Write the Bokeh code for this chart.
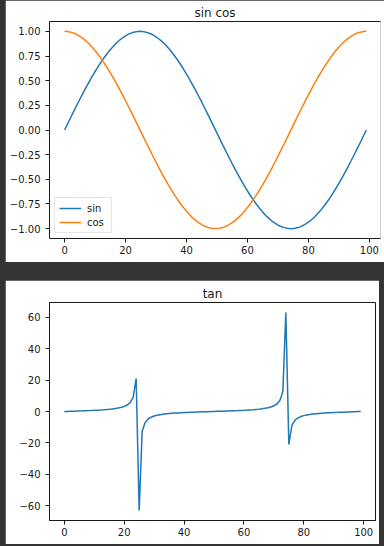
from bokeh.plotting import figure
from bokeh.models import Range1d, FixedTicker, LinearAxis, Legend, LegendItem
from bokeh.layouts import column
from bokeh.embed import file_html
from bokeh.resources import INLINE

# ---- data ----
x_index = [0, 1, 2, 3, 4, 5, 6, 7, 8, 9,
           10, 11, 12, 13, 14, 15, 16, 17, 18, 19,
           20, 21, 22, 23, 24, 25, 26, 27, 28, 29,
           30, 31, 32, 33, 34, 35, 36, 37, 38, 39,
           40, 41, 42, 43, 44, 45, 46, 47, 48, 49,
           50, 51, 52, 53, 54, 55, 56, 57, 58, 59,
           60, 61, 62, 63, 64, 65, 66, 67, 68, 69,
           70, 71, 72, 73, 74, 75, 76, 77, 78, 79,
           80, 81, 82, 83, 84, 85, 86, 87, 88, 89,
           90, 91, 92, 93, 94, 95, 96, 97, 98, 99]

sin_vals = [0.0, 0.0634, 0.1266, 0.1893, 0.2511, 0.3120, 0.3717, 0.4298, 0.4862, 0.5406,
            0.5929, 0.6428, 0.6901, 0.7346, 0.7761, 0.8146, 0.8497, 0.8815, 0.9096, 0.9341,
            0.9549, 0.9718, 0.9848, 0.9938, 0.9989, 0.9999, 0.9969, 0.9898, 0.9788, 0.9639,
            0.9450, 0.9224, 0.8960, 0.8660, 0.8326, 0.7958, 0.7557, 0.7127, 0.6668, 0.6182,
            0.5671, 0.5137, 0.4582, 0.4009, 0.3420, 0.2817, 0.2203, 0.1580, 0.0951, 0.0317,
            -0.0317, -0.0951, -0.1580, -0.2203, -0.2817, -0.3420, -0.4009, -0.4582, -0.5137, -0.5671,
            -0.6182, -0.6668, -0.7127, -0.7557, -0.7958, -0.8326, -0.8660, -0.8960, -0.9224, -0.9450,
            -0.9639, -0.9788, -0.9898, -0.9969, -0.9999, -0.9989, -0.9938, -0.9848, -0.9718, -0.9549,
            -0.9341, -0.9096, -0.8815, -0.8497, -0.8146, -0.7761, -0.7346, -0.6901, -0.6428, -0.5929,
            -0.5406, -0.4862, -0.4298, -0.3717, -0.3120, -0.2511, -0.1893, -0.1266, -0.0634, 0.0]

cos_vals = [1.0, 0.9980, 0.9920, 0.9819, 0.9679, 0.9501, 0.9284, 0.9029, 0.8738, 0.8413,
            0.8053, 0.7660, 0.7237, 0.6785, 0.6306, 0.5801, 0.5272, 0.4723, 0.4154, 0.3569,
            0.2969, 0.2357, 0.1736, 0.1108, 0.0476, -0.0159, -0.0792, -0.1423, -0.2048, -0.2665,
            -0.3271, -0.3863, -0.4441, -0.5, -0.5539, -0.6056, -0.6549, -0.7015, -0.7453, -0.7861,
            -0.8237, -0.8580, -0.8888, -0.9161, -0.9397, -0.9595, -0.9754, -0.9874, -0.9955, -0.9995,
            -0.9995, -0.9955, -0.9874, -0.9754, -0.9595, -0.9397, -0.9161, -0.8888, -0.8580, -0.8237,
            -0.7861, -0.7453, -0.7015, -0.6549, -0.6056, -0.5539, -0.5, -0.4441, -0.3863, -0.3271,
            -0.2665, -0.2048, -0.1423, -0.0792, -0.0159, 0.0476, 0.1108, 0.1736, 0.2357, 0.2969,
            0.3569, 0.4154, 0.4723, 0.5272, 0.5801, 0.6306, 0.6785, 0.7237, 0.7660, 0.8053,
            0.8413, 0.8738, 0.9029, 0.9284, 0.9501, 0.9679, 0.9819, 0.9920, 0.9980, 1.0]

tan_vals = [0.0, 0.0636, 0.1276, 0.1927, 0.2594, 0.3284, 0.4004, 0.4760, 0.5564, 0.6426,
            0.7363, 0.8391, 0.9536, 1.0826, 1.2307, 1.4042, 1.6117, 1.8664, 2.1897, 2.6172,
            3.2163, 4.1231, 5.6713, 8.9726, 20.99, -63.02, -12.58, -6.955, -4.779, -3.617,
            -2.889, -2.387, -2.018, -1.7321, -1.5036, -1.3140, -1.1540, -1.0160, -0.8943, -0.7866,
            -0.6888, -0.5991, -0.5155, -0.4376, -0.3640, -0.2936, -0.2258, -0.1601, -0.0955, -0.0317,
            0.0317, 0.0955, 0.1601, 0.2258, 0.2936, 0.3640, 0.4376, 0.5155, 0.5991, 0.6888,
            0.7866, 0.8943, 1.0160, 1.1540, 1.3140, 1.5036, 1.7321, 2.018, 2.387, 2.889,
            3.617, 4.779, 6.955, 12.58, 63.02, -20.99, -8.9726, -5.6713, -4.1231, -3.2163,
            -2.6172, -2.1897, -1.8664, -1.6117, -1.4042, -1.2307, -1.0826, -0.9536, -0.8391, -0.7363,
            -0.6426, -0.5564, -0.4760, -0.4004, -0.3284, -0.2594, -0.1927, -0.1276, -0.0636, 0.0]

series_names = ["sin", "cos"]
titles = ["sin cos", "tan"]

x_ticks = [0, 20, 40, 60, 80, 100]
x_tick_labels = ["0", "20", "40", "60", "80", "100"]
y_ticks_top = [-1.0, -0.75, -0.5, -0.25, 0.0, 0.25, 0.5, 0.75, 1.0]
y_tick_labels_top = ["\u22121.00", "\u22120.75", "\u22120.50", "\u22120.25", "0.00",
                     "0.25", "0.50", "0.75", "1.00"]
y_ticks_bot = [-60, -40, -20, 0, 20, 40, 60]
y_tick_labels_bot = ["\u221260", "\u221240", "\u221220", "0", "20", "40", "60"]

# ---- styling ----
FONT = "DejaVu Sans"
TICK_SIZE = "10px"
TITLE_SIZE = "12px"
BLUE = "#1f77b4"
ORANGE = "#ff7f0e"
DARK = "#343434"
INK = "#1a1a1a"


def style_axis(ax, ticks, labels, standoff):
    ax.ticker = FixedTicker(ticks=ticks)
    ax.major_label_overrides = dict(zip(ticks, labels))
    ax.major_label_text_font = FONT
    ax.major_label_text_font_size = TICK_SIZE
    ax.major_label_text_color = INK
    ax.major_label_standoff = standoff
    ax.major_tick_out = 4
    ax.major_tick_in = 0
    ax.minor_tick_out = 0
    ax.minor_tick_in = 0
    ax.major_tick_line_color = INK
    ax.axis_line_color = INK
    ax.axis_line_width = 1


def style_title(p, offset):
    p.title.text_font = FONT
    p.title.text_font_size = TITLE_SIZE
    p.title.text_font_style = "normal"
    p.title.text_color = INK
    p.title.align = "center"
    p.title.offset = offset
    p.title.standoff = 3


# ---- top: sin / cos ----
top = figure(width=379, height=262, output_backend="svg", toolbar_location=None,
             x_range=Range1d(-4.95, 103.64), y_range=Range1d(-1.1, 1.1),
             min_border_left=44, min_border_right=0, min_border_top=21,
             min_border_bottom=24, title=titles[0], margin=(0, 0, 0, 5))
top.outline_line_color = None
top.grid.visible = False
style_title(top, 0)
style_axis(top.xaxis[0], x_ticks, x_tick_labels, 3)
style_axis(top.yaxis[0], y_ticks_top, y_tick_labels_top, 5)

r_sin = top.line(x_index, sin_vals, line_color=BLUE, line_width=1.5)
r_cos = top.line(x_index, cos_vals, line_color=ORANGE, line_width=1.5)

legend = Legend(items=[LegendItem(label=series_names[0], renderers=[r_sin]),
                       LegendItem(label=series_names[1], renderers=[r_cos])],
                location="bottom_left")
legend.margin = 5
legend.padding = 4
legend.spacing = 2
legend.glyph_width = 22
legend.glyph_height = 12
legend.label_height = 12
legend.label_standoff = 6
legend.label_text_font = FONT
legend.label_text_font_size = TICK_SIZE
legend.label_text_color = INK
legend.border_line_color = "#cccccc"
legend.border_line_width = 1
legend.background_fill_color = "white"
legend.background_fill_alpha = 0.8
top.add_layout(legend)

top_spine = LinearAxis(ticker=FixedTicker(ticks=[]), major_tick_out=0, major_tick_in=0,
                       minor_tick_out=0, minor_tick_in=0, major_label_standoff=0,
                       major_label_text_font_size="0px", axis_line_color=INK,
                       axis_line_width=1)
top.add_layout(top_spine, "above")

# ---- bottom: tan ----
bot = figure(width=374, height=264, output_backend="svg", toolbar_location=None,
             x_range=Range1d(-4.95, 103.95), y_range=Range1d(-69.32, 69.32),
             min_border_left=34, min_border_right=4, min_border_top=22,
             min_border_bottom=24, title=titles[1], margin=(18, 5, 2, 5))
bot.outline_line_color = INK
bot.outline_line_width = 1
bot.grid.visible = False
style_title(bot, 0)
style_axis(bot.xaxis[0], x_ticks, x_tick_labels, 3)
style_axis(bot.yaxis[0], y_ticks_bot, y_tick_labels_bot, 5)
bot.line(x_index, tan_vals, line_color=BLUE, line_width=1.5)

layout = column(top, bot, spacing=0, styles={"background-color": DARK})

open("out.html", "w").write(file_html(layout, INLINE))
